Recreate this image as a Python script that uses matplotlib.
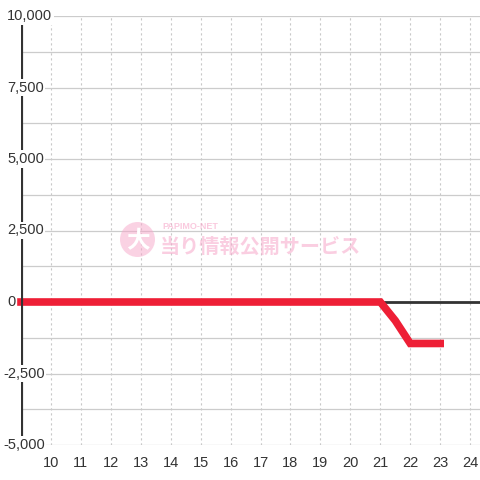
import matplotlib.pyplot as plt
from matplotlib.patches import Circle
from matplotlib.transforms import offset_copy

plt.rcParams['font.family'] = ['Liberation Sans', 'DejaVu Sans']

# hourly values (x = hour, y = difference)
hours = [9, 10, 11, 12, 13, 14, 15, 16, 17, 18, 19, 20, 21, 21.5, 22, 23]
values = [0, 0, 0, 0, 0, 0, 0, 0, 0, 0, 0, 0, 0, -650, -1450, -1450]

x_ticks = list(range(10, 25))
y_labels = [10000, 7500, 5000, 2500, 0, -2500, -5000]
y_grid = [-5000 + 1250 * i for i in range(13)]

fig = plt.figure(figsize=(4.8, 4.8), dpi=100)
ax = fig.add_axes([21 / 480, 35 / 480, 459 / 480, 429 / 480])
ax.set_xlim(9, 24.33)
ax.set_ylim(-5000, 10000)

for s in ax.spines.values():
    s.set_visible(False)

# grid
for x in x_ticks:
    ax.axvline(x, color='#c8c8c8', lw=0.8, ls=(0, (2, 2.5)), zorder=0)
for y in y_grid:
    ax.axhline(y, color='#cccccc', lw=0.9, zorder=0)

# watermark
wm = '#f7a6c9'
fig.patches.append(Circle((137.5 / 480, 1 - 239.5 / 480), 17.5 / 480,
                          transform=fig.transFigure, color=wm, alpha=0.5, lw=0))
fig.text(137.5 / 480, 1 - 241 / 480, '大', family=['Noto Sans CJK JP'],
         fontsize=17, fontweight='bold', color='white', ha='center', va='center')
fig.text(162 / 480, 1 - 226.5 / 480, 'PAPIMO-NET', fontsize=6.5, color=wm,
         alpha=0.6, ha='left', va='center', fontweight='bold')
fig.text(160 / 480, 1 - 246.5 / 480, '当り情報公開サービス',
         family=['Noto Sans CJK JP'], fontsize=14.5, fontweight='bold',
         color=wm, alpha=0.55, ha='left', va='center')

# zero line and y axis line
ax.axhline(0, color='#333333', lw=2, zorder=2)
ax.axvline(9, color='#333333', lw=3, zorder=4)

ax.plot(hours, values, color='#ee1f36', lw=5.5, solid_capstyle='projecting',
        solid_joinstyle='miter', zorder=3, clip_on=False)

# y labels over the axis line
for v in y_labels:
    shift = -4 if v < 0 else 0
    tr = offset_copy(ax.get_yaxis_transform(), fig=fig, x=(-14 + shift) * 0.72,
                     y=0, units='points')
    ax.text(0, v, f'{v:,}', transform=tr, ha='left', va='center',
            fontsize=10.5, color='#333333', zorder=6, clip_on=False,
            bbox=dict(facecolor='white', edgecolor='none', pad=1.2))

ax.set_yticks([])
ax.set_xticks(x_ticks)
ax.set_xticklabels([str(x) for x in x_ticks])
ax.tick_params(axis='x', length=0, pad=8, labelsize=10.5, labelcolor='#333333')

fig.savefig('out.png', dpi=100, facecolor='white')
